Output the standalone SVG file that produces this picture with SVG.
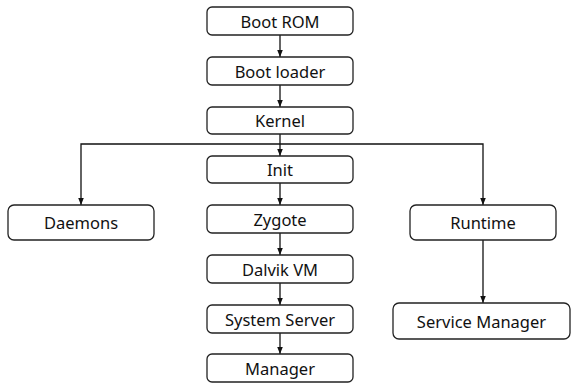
<svg xmlns="http://www.w3.org/2000/svg" width="571" height="385" viewBox="0 0 571 385">
<style>
.box{fill:#fff;stroke:#222;stroke-width:1.3}
.lbl{font-family:"Noto Sans","Open Sans",sans-serif;font-weight:400;font-size:16.5px;fill:#111;text-anchor:middle;dominant-baseline:central}
.edge{fill:none;stroke:#111;stroke-width:1.3}
</style>
<defs>
<marker id="ah" viewBox="0 0 10 10" refX="10" refY="5" markerWidth="7" markerHeight="7" markerUnits="userSpaceOnUse" orient="auto">
<path d="M0,1 L10,5 L0,9 Z" fill="#111"/>
</marker>
</defs>
<rect width="571" height="385" fill="#fff"/>
<g id="connectors">
<path class="edge" d="M280,35 V57" marker-end="url(#ah)"/>
<path class="edge" d="M280,85 V107" marker-end="url(#ah)"/>
<path class="edge" d="M280,134 V156" marker-end="url(#ah)"/>
<path class="edge" d="M280,144 H81 V205" marker-end="url(#ah)"/>
<path class="edge" d="M280,144 H483 V205" marker-end="url(#ah)"/>
<path class="edge" d="M280,183 V205" marker-end="url(#ah)"/>
<path class="edge" d="M280,233 V255" marker-end="url(#ah)"/>
<path class="edge" d="M280,283 V305" marker-end="url(#ah)"/>
<path class="edge" d="M280,333 V354" marker-end="url(#ah)"/>
<path class="edge" d="M483,240 V303" marker-end="url(#ah)"/>
</g>
<g id="boot-rom"><rect class="box" x="207" y="7" width="146" height="28" rx="5"/><text class="lbl" x="280" y="21">Boot ROM</text></g>
<g id="boot-loader"><rect class="box" x="207" y="57" width="146" height="28" rx="5"/><text class="lbl" x="280" y="71">Boot loader</text></g>
<g id="kernel"><rect class="box" x="207" y="107" width="146" height="27" rx="5"/><text class="lbl" x="280" y="120.5">Kernel</text></g>
<g id="init"><rect class="box" x="207" y="156" width="146" height="27" rx="5"/><text class="lbl" x="280" y="169.5">Init</text></g>
<g id="zygote"><rect class="box" x="207" y="205" width="146" height="28" rx="5"/><text class="lbl" x="280" y="219">Zygote</text></g>
<g id="dalvik-vm"><rect class="box" x="207" y="255" width="146" height="28" rx="5"/><text class="lbl" x="280" y="269">Dalvik VM</text></g>
<g id="system-server"><rect class="box" x="207" y="305" width="146" height="28" rx="5"/><text class="lbl" x="280" y="319">System Server</text></g>
<g id="manager"><rect class="box" x="207" y="354" width="146" height="28" rx="5"/><text class="lbl" x="280" y="368">Manager</text></g>
<g id="daemons"><rect class="box" x="8" y="205" width="146" height="35" rx="6"/><text class="lbl" x="81" y="222.5">Daemons</text></g>
<g id="runtime"><rect class="box" x="410" y="205" width="146" height="35" rx="6"/><text class="lbl" x="483" y="222.5">Runtime</text></g>
<g id="service-manager"><rect class="box" x="393" y="303" width="177" height="36" rx="6"/><text class="lbl" x="481.5" y="321">Service Manager</text></g>
</svg>
